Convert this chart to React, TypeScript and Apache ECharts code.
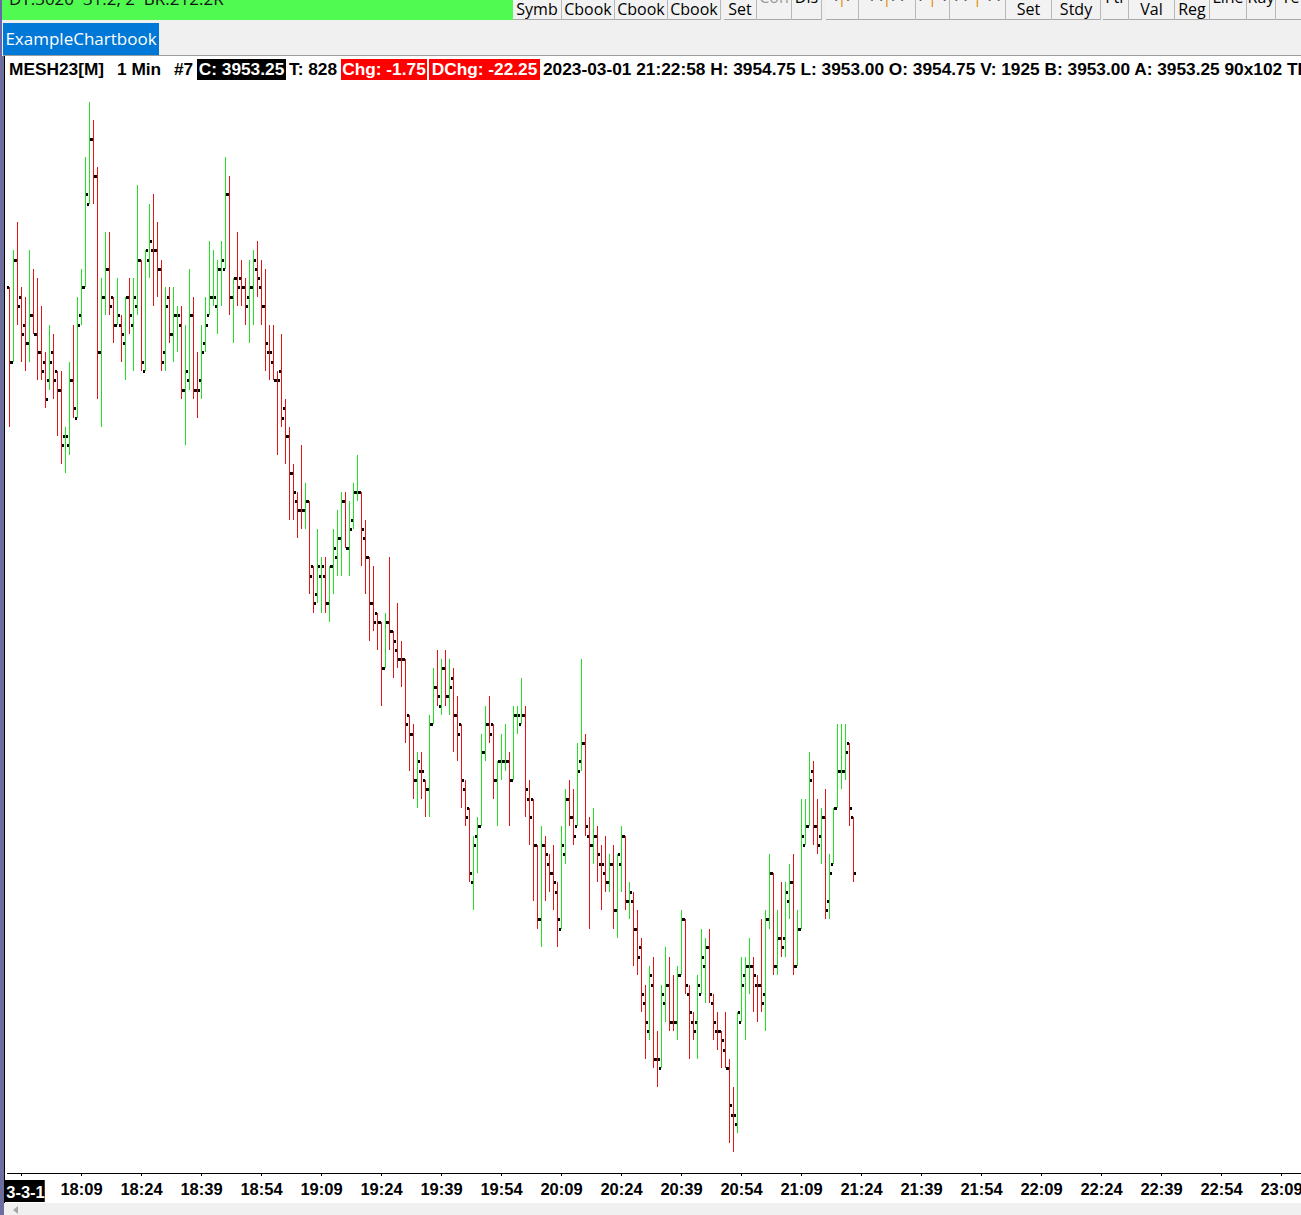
import { useEffect, useRef } from 'react'
import * as echarts from 'echarts'

// MESH23[M] 1 Min, 2023-03-01, bars 17:51 .. 21:22
const firstBarTime = '17:51'
const axisMinutes = 324
const dateLabelTime = '17:54'
const dateLabel = '3-3-1'
const tickLabels = [
  '18:09', '18:24', '18:39', '18:54', '19:09', '19:24', '19:39', '19:54', '20:09', '20:24', '20:39',
  '20:54', '21:09', '21:24', '21:39', '21:54', '22:09', '22:24', '22:39', '22:54', '23:09',
]

const opens = [
  3969.0, 3967.0, 3969.75, 3968.75, 3968.0, 3967.5, 3968.25, 3967.75, 3967.25, 3967.0,
  3966.5, 3967.25, 3966.75, 3966.25, 3965.0, 3964.75, 3966.5, 3965.5, 3968.25, 3969.0,
  3971.25, 3973.0, 3972.0, 3967.25, 3968.75, 3969.5, 3968.75, 3968.0, 3968.0, 3967.5,
  3968.75, 3968.0, 3968.5, 3969.75, 3966.75, 3969.75, 3970.0, 3970.0, 3969.5, 3967.25,
  3968.75, 3967.75, 3968.25, 3968.0, 3966.25, 3966.5, 3968.25, 3966.25, 3966.5, 3967.5,
  3968.25, 3968.75, 3968.5, 3969.5, 3969.5, 3971.5, 3968.75, 3969.25, 3969.25, 3969.0,
  3968.75, 3969.0, 3969.5, 3969.0, 3968.5, 3967.25, 3967.0, 3966.5, 3966.75, 3965.75,
  3965.0, 3964.0, 3963.25, 3963.0, 3963.0, 3963.25, 3961.5, 3960.75, 3961.25, 3961.25,
  3960.5, 3961.5, 3961.75, 3962.25, 3963.25, 3962.0, 3962.75, 3963.5, 3963.5, 3962.25,
  3961.75, 3960.5, 3960.25, 3960.0, 3958.75, 3960.0, 3959.75, 3959.25, 3959.0, 3959.0,
  3957.5, 3957.0, 3955.75, 3956.0, 3955.75, 3955.5, 3957.25, 3958.25, 3957.75, 3958.75,
  3958.0, 3958.5, 3957.5, 3957.25, 3955.5, 3955.0, 3953.0, 3954.25, 3954.5, 3956.5,
  3957.25, 3957.25, 3955.75, 3956.25, 3956.25, 3956.25, 3955.75, 3957.5, 3957.25, 3957.5,
  3955.25, 3955.25, 3954.0, 3952.0, 3954.0, 3953.5, 3953.25, 3952.75, 3951.75, 3953.75,
  3955.25, 3954.75, 3954.5, 3956.25, 3956.75, 3954.25, 3954.0, 3954.25, 3953.5, 3953.25,
  3953.0, 3953.5, 3952.25, 3953.5, 3954.25, 3952.5, 3952.5, 3951.75, 3951.25, 3949.75,
  3949.0, 3950.25, 3948.25, 3948.0, 3949.75, 3950.25, 3949.25, 3949.25, 3950.5, 3952.0,
  3950.0, 3949.25, 3949.25, 3950.0, 3950.75, 3951.25, 3949.75, 3949.0, 3949.0, 3948.5,
  3948.0, 3946.75, 3946.5, 3949.25, 3950.5, 3950.75, 3950.75, 3950.25, 3950.25, 3950.0,
  3952.0, 3953.25, 3950.75, 3951.5, 3951.5, 3952.5, 3953.0, 3950.75, 3951.75, 3954.0,
  3954.5, 3956.0, 3954.5, 3954.25, 3954.75, 3952.5, 3953.5, 3955.0, 3956.0, 3956.0,
  3956.75, 3954.75,
]

const highs = [
  3969.0, 3970.0, 3970.75, 3969.0, 3968.75, 3970.0, 3969.5, 3969.25, 3968.5, 3967.25,
  3968.0, 3967.75, 3966.75, 3966.75, 3965.25, 3967.0, 3968.0, 3968.75, 3969.5, 3972.5,
  3974.0, 3973.5, 3972.25, 3969.25, 3970.5, 3970.5, 3968.75, 3969.25, 3968.25, 3968.75,
  3969.25, 3969.25, 3971.75, 3969.75, 3970.0, 3971.25, 3971.5, 3970.75, 3969.75, 3969.0,
  3969.0, 3969.0, 3968.5, 3968.5, 3968.0, 3969.5, 3968.75, 3967.25, 3968.0, 3968.75,
  3970.25, 3970.0, 3969.75, 3970.25, 3972.5, 3972.0, 3969.25, 3970.5, 3969.75, 3969.25,
  3969.75, 3970.0, 3970.25, 3969.75, 3969.5, 3968.0, 3968.0, 3966.75, 3967.75, 3966.0,
  3965.25, 3964.25, 3963.5, 3964.75, 3963.75, 3963.25, 3961.5, 3962.5, 3961.75, 3961.75,
  3961.5, 3962.5, 3963.0, 3963.5, 3963.5, 3963.25, 3963.75, 3964.5, 3963.5, 3962.75,
  3961.75, 3961.5, 3960.25, 3960.0, 3960.25, 3961.75, 3959.75, 3960.5, 3959.5, 3959.0,
  3957.5, 3957.25, 3956.5, 3956.5, 3955.75, 3957.5, 3958.75, 3959.25, 3959.0, 3959.25,
  3959.0, 3958.75, 3958.0, 3957.25, 3955.75, 3955.0, 3954.25, 3954.75, 3957.0, 3957.75,
  3958.0, 3957.25, 3956.25, 3957.0, 3957.25, 3956.5, 3957.75, 3957.75, 3958.5, 3957.75,
  3955.75, 3955.25, 3954.0, 3954.5, 3954.25, 3953.75, 3954.0, 3953.0, 3954.5, 3955.5,
  3955.75, 3955.5, 3956.75, 3959.0, 3957.0, 3954.75, 3955.0, 3954.5, 3954.0, 3954.25,
  3953.75, 3954.0, 3953.75, 3954.5, 3954.25, 3953.0, 3952.75, 3952.25, 3951.5, 3950.25,
  3950.75, 3951.0, 3949.0, 3950.25, 3951.25, 3951.0, 3950.5, 3950.75, 3952.25, 3952.0,
  3950.25, 3949.5, 3950.5, 3951.75, 3951.5, 3951.75, 3950.0, 3949.5, 3949.0, 3949.5,
  3948.25, 3947.5, 3949.5, 3951.0, 3951.0, 3951.5, 3951.0, 3950.5, 3952.0, 3952.25,
  3953.75, 3953.25, 3952.25, 3953.0, 3953.0, 3953.5, 3953.75, 3952.25, 3955.25, 3955.25,
  3956.5, 3956.25, 3955.25, 3955.0, 3955.5, 3953.75, 3955.0, 3957.25, 3957.25, 3957.25,
  3956.75, 3954.75,
]

const lows = [
  3965.25, 3967.0, 3968.0, 3967.0, 3966.75, 3967.0, 3967.75, 3966.5, 3966.5, 3965.75,
  3966.25, 3966.0, 3965.0, 3964.25, 3964.0, 3964.5, 3965.5, 3965.5, 3968.0, 3969.0,
  3971.25, 3971.25, 3966.0, 3965.25, 3968.25, 3968.25, 3967.5, 3968.0, 3967.0, 3966.5,
  3967.75, 3966.75, 3968.25, 3966.75, 3966.75, 3969.25, 3968.5, 3968.75, 3966.75, 3966.75,
  3967.5, 3967.0, 3967.25, 3966.0, 3964.75, 3966.25, 3966.0, 3965.5, 3966.0, 3967.25,
  3968.25, 3968.5, 3967.75, 3968.5, 3969.5, 3968.25, 3967.5, 3968.5, 3968.5, 3968.0,
  3967.5, 3968.0, 3968.75, 3968.0, 3966.75, 3966.5, 3966.5, 3964.5, 3965.25, 3964.25,
  3962.75, 3962.75, 3962.25, 3962.5, 3962.5, 3960.75, 3960.25, 3960.5, 3960.25, 3960.25,
  3960.0, 3960.75, 3961.25, 3961.25, 3962.0, 3961.25, 3962.5, 3963.25, 3961.5, 3960.75,
  3959.5, 3959.75, 3959.25, 3957.75, 3958.75, 3959.25, 3958.5, 3958.75, 3958.25, 3956.75,
  3956.0, 3955.25, 3955.0, 3955.25, 3954.75, 3954.75, 3957.25, 3957.75, 3957.5, 3957.75,
  3957.5, 3956.5, 3956.25, 3955.0, 3954.5, 3953.0, 3952.25, 3953.25, 3954.5, 3956.25,
  3956.75, 3955.25, 3954.5, 3955.75, 3956.0, 3954.5, 3955.75, 3957.0, 3957.25, 3954.75,
  3954.0, 3952.5, 3951.75, 3951.25, 3952.5, 3952.75, 3952.25, 3951.25, 3951.75, 3953.5,
  3954.5, 3954.0, 3954.5, 3956.0, 3954.25, 3951.75, 3953.5, 3953.0, 3952.25, 3952.75,
  3952.75, 3951.75, 3951.5, 3952.75, 3952.25, 3952.0, 3950.75, 3950.5, 3949.5, 3948.25,
  3948.75, 3948.0, 3947.5, 3948.0, 3949.25, 3949.0, 3949.0, 3948.75, 3950.5, 3950.0,
  3948.25, 3948.75, 3948.25, 3950.0, 3949.75, 3949.75, 3948.75, 3948.5, 3948.0, 3948.0,
  3946.0, 3945.75, 3946.25, 3949.25, 3948.75, 3950.0, 3949.5, 3949.25, 3949.5, 3949.0,
  3951.75, 3950.5, 3950.5, 3951.0, 3951.0, 3952.0, 3950.5, 3950.75, 3951.75, 3954.0,
  3954.5, 3954.0, 3953.75, 3953.5, 3952.0, 3952.0, 3953.5, 3955.0, 3955.5, 3955.75,
  3954.5, 3953.0,
]

const closes = [
  3967.0, 3969.75, 3968.5, 3967.75, 3967.5, 3968.25, 3967.75, 3967.25, 3966.75, 3966.0,
  3967.0, 3966.5, 3966.25, 3964.75, 3965.0, 3966.5, 3965.75, 3968.0, 3969.0, 3971.5,
  3973.0, 3972.0, 3967.25, 3968.75, 3969.5, 3968.5, 3968.0, 3968.25, 3967.75, 3968.75,
  3968.25, 3968.75, 3969.75, 3967.0, 3970.0, 3970.25, 3970.0, 3969.5, 3967.0, 3968.5,
  3967.75, 3968.25, 3968.25, 3966.25, 3966.75, 3968.25, 3966.25, 3966.25, 3967.25, 3968.0,
  3968.75, 3968.75, 3969.5, 3969.75, 3971.5, 3968.75, 3969.25, 3969.0, 3969.0, 3968.5,
  3969.0, 3969.75, 3969.25, 3968.5, 3967.5, 3967.25, 3966.5, 3966.5, 3965.5, 3965.0,
  3964.0, 3963.5, 3963.0, 3963.0, 3963.25, 3961.25, 3960.5, 3961.5, 3961.5, 3960.5,
  3961.5, 3962.0, 3962.25, 3963.25, 3962.0, 3962.5, 3963.5, 3963.5, 3962.5, 3961.75,
  3960.5, 3960.0, 3960.0, 3958.75, 3960.0, 3959.75, 3959.5, 3959.0, 3959.0, 3957.25,
  3957.0, 3955.75, 3956.25, 3956.0, 3955.5, 3957.25, 3958.25, 3958.0, 3958.75, 3958.0,
  3958.25, 3957.5, 3957.0, 3955.75, 3954.75, 3953.25, 3954.0, 3954.5, 3956.5, 3957.25,
  3957.0, 3955.75, 3956.25, 3956.25, 3956.25, 3955.75, 3957.5, 3957.5, 3957.5, 3955.5,
  3954.75, 3954.0, 3952.0, 3954.0, 3953.75, 3953.25, 3953.0, 3952.0, 3954.0, 3955.25,
  3954.75, 3954.25, 3956.0, 3956.75, 3954.5, 3954.0, 3954.25, 3953.75, 3953.5, 3953.0,
  3953.5, 3952.25, 3953.75, 3954.25, 3952.5, 3952.75, 3951.75, 3951.0, 3950.0, 3949.25,
  3950.5, 3948.25, 3948.25, 3950.0, 3950.25, 3949.25, 3949.25, 3950.5, 3952.0, 3950.25,
  3949.5, 3949.0, 3950.25, 3951.0, 3951.25, 3950.0, 3949.25, 3949.0, 3948.75, 3948.0,
  3947.0, 3946.75, 3949.5, 3950.25, 3950.75, 3950.75, 3950.5, 3950.25, 3949.75, 3952.0,
  3953.25, 3950.75, 3951.5, 3951.25, 3952.75, 3953.0, 3950.75, 3951.75, 3954.25, 3954.5,
  3955.75, 3954.5, 3954.0, 3954.75, 3952.25, 3953.25, 3955.0, 3956.0, 3956.0, 3956.5,
  3955.0, 3953.25,
]

// visible price window of the chart (y axis itself is not shown)
const priceMin = 3945.18
const priceMax = 3974.31

const UP = '#22e022'
const DOWN = '#e81212'
const FONT = '"Liberation Sans", Arial, sans-serif'
const UI_FONT = '"Open Sans", "Noto Sans", sans-serif'

const toolbarButtons = [
  { label: 'Symb', x: 513, w: 49 },
  { label: 'Cbook', x: 562, w: 53 },
  { label: 'Cbook', x: 615, w: 53 },
  { label: 'Cbook', x: 668, w: 53 },
  { label: 'Set', x: 724, w: 33 },
  { label: 'Con', x: 757, w: 35, upper: true, dim: true },
  { label: 'Dis', x: 792, w: 30, upper: true },
  { label: '<|>', x: 826, w: 33, upper: true },
  { label: '<<|>>', x: 859, w: 57, upper: true },
  { label: '>|<', x: 916, w: 34, upper: true },
  { label: '>>|<<', x: 950, w: 56, upper: true },
  { label: 'Set', x: 1006, w: 46 },
  { label: 'Stdy', x: 1052, w: 49 },
  { label: 'Ftr', x: 1103, w: 26, upper: true },
  { label: 'Val', x: 1129, w: 46 },
  { label: 'Reg', x: 1175, w: 35 },
  { label: 'Line', x: 1210, w: 37, upper: true },
  { label: 'Ray', x: 1247, w: 29, upper: true },
  { label: 'Te', x: 1276, w: 30, upper: true },
]

function buildTimes() {
  const [h, m] = firstBarTime.split(':').map(Number)
  const out: string[] = []
  for (let k = 0; k < axisMinutes; k++) {
    const t = h * 60 + m + k
    out.push(`${Math.floor(t / 60)}:${String(t % 60).padStart(2, '0')}`)
  }
  return out
}

// bar colour follows close vs previous close, ties keep the previous colour
function buildColors() {
  const out: string[] = []
  for (let i = 0; i < closes.length; i++) {
    if (i === 0) out.push(closes[0] >= opens[0] ? UP : DOWN)
    else if (closes[i] > closes[i - 1]) out.push(UP)
    else if (closes[i] < closes[i - 1]) out.push(DOWN)
    else out.push(out[i - 1])
  }
  return out
}

function OhlcChart() {
  const ref = useRef<HTMLDivElement>(null)

  useEffect(() => {
    const el = ref.current
    if (!el) return
    const chart = echarts.init(el, null, { renderer: 'svg' })
    const times = buildTimes()
    const colors = buildColors()
    const data = closes.map((c, i) => [i, opens[i], highs[i], lows[i], c])
    const showTick = (_i: number, value: string) => value === dateLabelTime || tickLabels.includes(value)

    chart.setOption({
      animation: false,
      backgroundColor: '#ffffff',
      grid: {
        left: 2.5,
        top: 34,
        width: axisMinutes * 4,
        height: 1083,
        containLabel: false,
        outerBoundsMode: 'none',
      },
      xAxis: {
        type: 'category',
        data: times,
        boundaryGap: true,
        axisLine: { lineStyle: { color: '#000', width: 1 } },
        axisTick: { show: true, alignWithLabel: true, length: 3, interval: showTick, lineStyle: { color: '#000' } },
        axisLabel: {
          interval: showTick,
          color: '#000',
          fontFamily: FONT,
          fontWeight: 'bold',
          fontSize: 16.5,
          margin: 7,
          formatter: (value: string) => (value === dateLabelTime ? `{d|${dateLabel}}` : value),
          rich: {
            d: {
              backgroundColor: '#000',
              color: '#fff',
              fontFamily: FONT,
              fontWeight: 'bold',
              fontSize: 16.5,
              padding: [3, 0, 2, 8],
            },
          },
        },
        splitLine: { show: false },
      },
      yAxis: { type: 'value', min: priceMin, max: priceMax, show: false, splitLine: { show: false } },
      series: [
        {
          type: 'custom',
          data,
          encode: { x: 0, y: [1, 2, 3, 4] },
          renderItem: (_params: any, api: any) => {
            const i = api.value(0)
            const pO = api.coord([i, api.value(1)])
            const pH = api.coord([i, api.value(2)])
            const pL = api.coord([i, api.value(3)])
            const pC = api.coord([i, api.value(4)])
            const x = Math.floor(pO[0])
            const yH = Math.round(pH[1])
            const yL = Math.round(pL[1])
            return {
              type: 'group',
              children: [
                { type: 'rect', shape: { x, y: yH, width: 1, height: Math.max(1, yL - yH) }, style: { fill: colors[i] } },
                { type: 'rect', shape: { x: x - 2, y: Math.round(pO[1]) - 1, width: 2, height: 3 }, style: { fill: '#000' } },
                { type: 'rect', shape: { x: x + 1, y: Math.round(pC[1]) - 1, width: 2, height: 3 }, style: { fill: '#000' } },
              ],
            }
          },
        },
      ],
    })

    return () => chart.dispose()
  }, [])

  return (
    <div
      ref={ref}
      style={{ position: 'absolute', left: 5, top: 56, width: 1296, height: 1147, background: '#fff' }}
    />
  )
}

function ToolButton({ label, x, w, upper, dim }: { label: string; x: number; w: number; upper?: boolean; dim?: boolean }) {
  const parts = label.split('|')
  return (
    <div
      style={{
        position: 'absolute',
        left: x,
        top: 0,
        width: w,
        height: 20,
        boxSizing: 'border-box',
        borderRight: '1px solid #b8b8b8',
        borderBottom: '1px solid #a8a8a8',
        background: '#f2f2f2',
        overflow: 'hidden',
      }}
    >
      <div
        style={{
          position: 'absolute',
          left: 0,
          right: 0,
          top: upper ? -14 : -2,
          textAlign: 'center',
          fontFamily: UI_FONT,
          fontSize: 16,
          lineHeight: '22px',
          color: dim ? '#9a9a9a' : '#000',
          whiteSpace: 'pre',
        }}
      >
        {parts.length > 1 ? (
          <>
            {parts[0]}
            <span style={{ color: '#e08a00' }}>|</span>
            {parts[1]}
          </>
        ) : (
          label
        )}
      </div>
    </div>
  )
}

const headerStyle = {
  position: 'absolute' as const,
  top: 59,
  height: 21,
  lineHeight: '21px',
  fontFamily: FONT,
  fontWeight: 'bold' as const,
  fontSize: 17.3,
  whiteSpace: 'pre' as const,
  color: '#000',
}

export default function App() {
  useEffect(() => {
    document.body.style.margin = '0'
  }, [])

  return (
    <div
      style={{
        position: 'fixed',
        left: 0,
        top: 0,
        width: 1301,
        height: 1215,
        overflow: 'hidden',
        background: '#f0f0f0',
      }}
    >
      {/* top strip */}
      <div style={{ position: 'absolute', left: 2, top: 0, width: 511, height: 20, background: '#50fa50', overflow: 'hidden' }}>
        <div style={{ position: 'absolute', left: 7, top: -13, fontFamily: UI_FONT, fontSize: 17, color: '#111', whiteSpace: 'pre' }}>
          DT:3020  31:2, 2  BR:212.2R
        </div>
      </div>
      {toolbarButtons.map((b, k) => (
        <ToolButton key={k} {...b} />
      ))}

      {/* chartbook tab */}
      <div
        style={{
          position: 'absolute',
          left: 3,
          top: 23,
          width: 156,
          height: 32,
          background: '#0078d7',
          color: '#fff',
          fontFamily: UI_FONT,
          fontSize: 17,
          lineHeight: '32px',
          textAlign: 'center',
        }}
      >
        ExampleChartbook
      </div>

      {/* chart frame */}
      <div style={{ position: 'absolute', left: 3, top: 55, width: 1298, height: 1, background: '#9c9c9c' }} />
      <OhlcChart />
      <div style={{ position: 'absolute', left: 0, top: 0, width: 2, height: 1215, background: '#6a64a8' }} />
      <div style={{ position: 'absolute', left: 0, top: 56, width: 4, height: 1159, background: '#6e6e9c' }} />
      <div style={{ position: 'absolute', left: 4, top: 56, width: 1, height: 1147, background: '#000' }} />

      {/* header line */}
      <div style={{ ...headerStyle, left: 9 }}>MESH23[M]</div>
      <div style={{ ...headerStyle, left: 117 }}>1 Min</div>
      <div style={{ ...headerStyle, left: 174 }}>#7</div>
      <div style={{ ...headerStyle, left: 197, width: 89, background: '#000', color: '#fff', textAlign: 'center' }}>C: 3953.25</div>
      <div style={{ ...headerStyle, left: 289 }}>T: 828</div>
      <div style={{ ...headerStyle, left: 341, width: 86, background: '#ff0000', color: '#fff', textAlign: 'center' }}>Chg: -1.75</div>
      <div style={{ ...headerStyle, left: 429, width: 111, background: '#ff0000', color: '#fff', textAlign: 'center' }}>DChg: -22.25</div>
      <div style={{ ...headerStyle, left: 543 }}>
        2023-03-01 21:22:58 H: 3954.75 L: 3953.00 O: 3954.75 V: 1925 B: 3953.00 A: 3953.25 90x102 TI
      </div>

      {/* bottom scroll bar */}
      <div style={{ position: 'absolute', left: 5, top: 1203, width: 1296, height: 12, background: '#f0f0f0' }} />
      <div
        style={{
          position: 'absolute',
          left: 13,
          top: 1206,
          width: 0,
          height: 0,
          borderTop: '4px solid transparent',
          borderBottom: '4px solid transparent',
          borderRight: '5px solid #a6a6a6',
        }}
      />
    </div>
  )
}
